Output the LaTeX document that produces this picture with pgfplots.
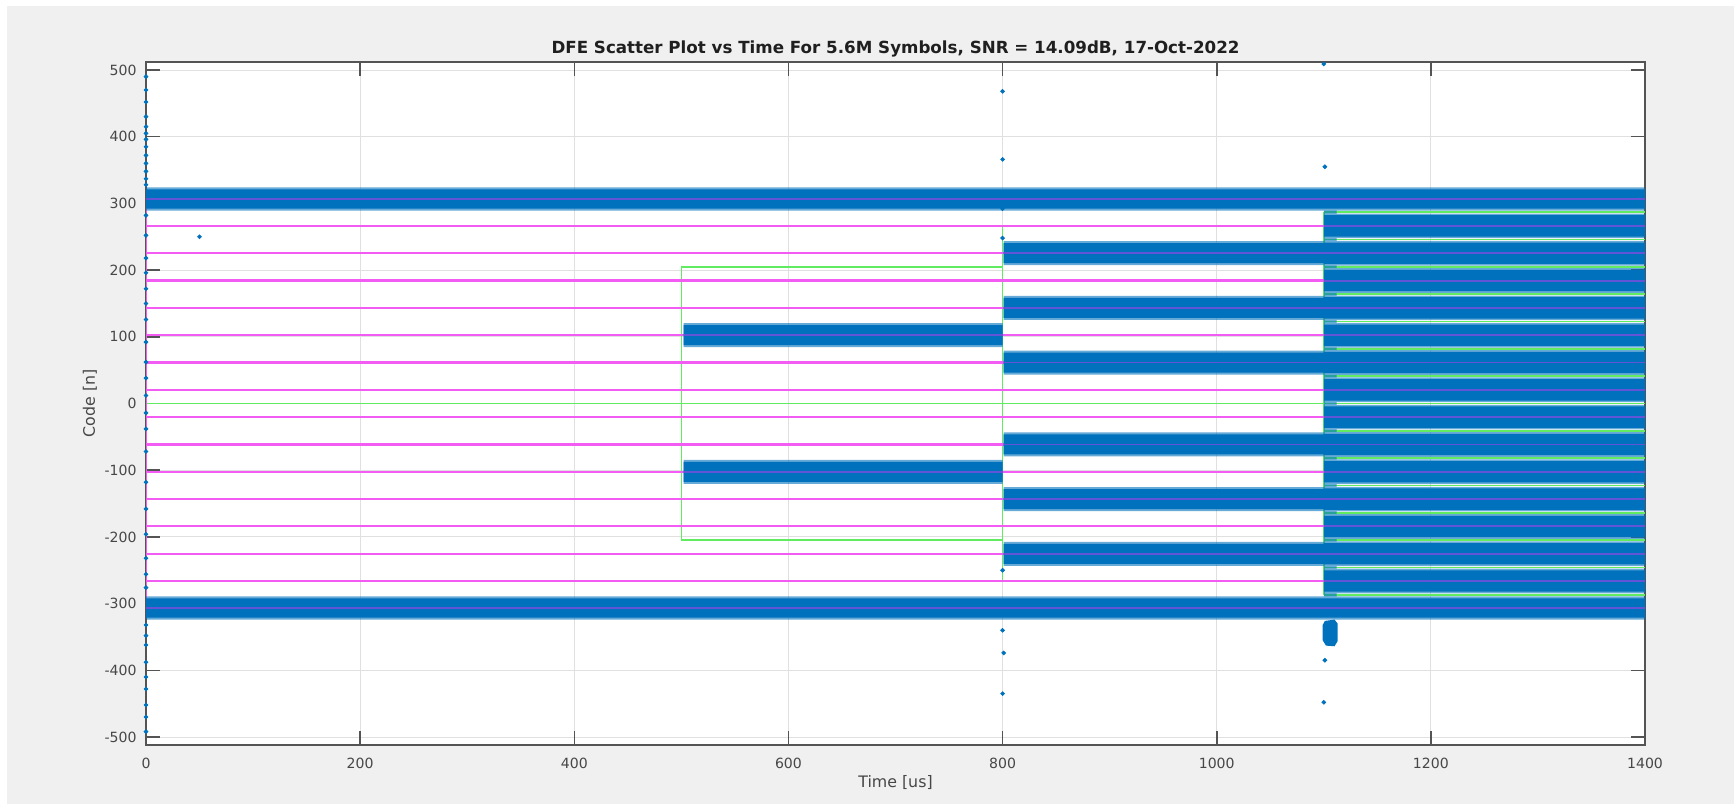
\documentclass[border=0pt]{standalone}
\usepackage{fontspec}
\setmainfont{DejaVu Sans}
\usepackage{pgfplots}
\pgfplotsset{compat=1.18}

\definecolor{figbg}{rgb}{0.94,0.94,0.94}
\definecolor{mblue}{rgb}{0,0.447,0.741}
\definecolor{lvl}{rgb}{0.95,0.36,0.95}
\definecolor{lvlin}{rgb}{0.38,0.33,0.84}
\definecolor{thr}{rgb}{0.38,0.92,0.38}
\definecolor{gridc}{rgb}{0.88,0.88,0.88}
\definecolor{axc}{rgb}{0.33,0.33,0.33}
\definecolor{txt}{rgb}{0.28,0.28,0.28}

\begin{document}
\begin{tikzpicture}
\fill[white] (0,0) rectangle (34.68,16.08);
\fill[figbg] (0.14,0) rectangle (34.68,15.96);
\begin{axis}[
    at={(2.92cm,1.18cm)}, anchor=south west,
    width=29.98cm, height=13.66cm, scale only axis,
    xmin=0, xmax=1400, ymin=-512, ymax=512,
    xtick={0,200,...,1400},
    ytick={-500,-400,...,500},
    axis background/.style={fill=white},
    grid=major,
    major grid style={gridc, line width=0.5pt},
    axis line style={axc, line width=0.9pt},
    tick style={axc, line width=0.9pt},
    major tick length=0.28cm,
    tick align=inside,
    tick pos=both, ticklabel pos=left,
    /pgf/number format/assume math mode=true,
    /pgf/number format/1000 sep={},
    ticklabel style={font=\fontsize{8}{10}\selectfont, text=txt},
    xticklabel style={yshift=-0.146cm},
    yticklabel style={xshift=-0.066cm},
    every axis title shift=0pt,
    title={DFE Scatter Plot vs Time For 5.6M Symbols, SNR = 14.09dB, 17-Oct-2022},
    title style={at={(axis description cs:0.5,1.019)}, anchor=center,
        font=\fontsize{9.5}{12}\selectfont\bfseries, text=black!88},
    xlabel={Time [us]},
    ylabel={Code [n]},
    xlabel style={at={(axis description cs:0.5,-0.0556)}, anchor=center,
        font=\fontsize{9}{11}\selectfont, text=txt},
    ylabel style={at={(axis description cs:-0.0374,0.5)}, anchor=center,
        font=\fontsize{9}{11}\selectfont, text=txt},
    unbounded coords=jump,
]

% decision thresholds (green)
\addplot[thr, line width=0.95pt] coordinates {
    (0,0) (1400,0) (nan,nan)
    (500,204.8) (800,204.8) (nan,nan)
    (500,-204.8) (800,-204.8) (nan,nan)
    (800,102.4) (1100,102.4) (nan,nan)
    (800,-102.4) (1100,-102.4) (nan,nan)
    (800,184.32) (1100,184.32) (nan,nan)
    (800,-184.32) (1100,-184.32) (nan,nan)
    (800,266.24) (1100,266.24) (nan,nan)
    (800,-266.24) (1100,-266.24) (nan,nan)
    (1100,40.96) (1400,40.96) (nan,nan)
    (1100,-40.96) (1400,-40.96) (nan,nan)
    (1100,81.92) (1400,81.92) (nan,nan)
    (1100,-81.92) (1400,-81.92) (nan,nan)
    (1100,122.88) (1400,122.88) (nan,nan)
    (1100,-122.88) (1400,-122.88) (nan,nan)
    (1100,163.84) (1400,163.84) (nan,nan)
    (1100,-163.84) (1400,-163.84) (nan,nan)
    (1100,204.8) (1400,204.8) (nan,nan)
    (1100,-204.8) (1400,-204.8) (nan,nan)
    (1100,245.76) (1400,245.76) (nan,nan)
    (1100,-245.76) (1400,-245.76) (nan,nan)
    (1100,286.72) (1400,286.72) (nan,nan)
    (1100,-286.72) (1400,-286.72) (nan,nan)
    (500,-204.8) (500,204.8) (nan,nan)
    (800,-266.24) (800,266.24) (nan,nan)
    (1100,-286.72) (1100,286.72)
};

% ideal levels (magenta)
\addplot[lvl, line width=1.2pt] coordinates {
    (0,-307.2) (0,307.2) (nan,nan)
    (0,307.2) (1400,307.2) (nan,nan)
    (0,266.24) (1400,266.24) (nan,nan)
    (0,225.28) (1400,225.28) (nan,nan)
    (0,184.32) (1400,184.32) (nan,nan)
    (0,143.36) (1400,143.36) (nan,nan)
    (0,102.4) (1400,102.4) (nan,nan)
    (0,61.44) (1400,61.44) (nan,nan)
    (0,20.48) (1400,20.48) (nan,nan)
    (0,-20.48) (1400,-20.48) (nan,nan)
    (0,-61.44) (1400,-61.44) (nan,nan)
    (0,-102.4) (1400,-102.4) (nan,nan)
    (0,-143.36) (1400,-143.36) (nan,nan)
    (0,-184.32) (1400,-184.32) (nan,nan)
    (0,-225.28) (1400,-225.28) (nan,nan)
    (0,-266.24) (1400,-266.24) (nan,nan)
    (0,-307.2) (1400,-307.2)
};

% scatter bands, ragged fringe
\addplot[fill=mblue, fill opacity=0.6, draw=none] coordinates {
    (0,289) (1400,289) (1400,324) (0,324) (nan,nan)
    (0,-324) (1400,-324) (1400,-289) (0,-289) (nan,nan)
    (502,84.4) (800,84.4) (800,120.4) (502,120.4) (nan,nan)
    (502,-120.4) (800,-120.4) (800,-84.4) (502,-84.4) (nan,nan)
    (801,43.44) (1100,43.44) (1100,79.44) (801,79.44) (nan,nan)
    (801,125.36) (1100,125.36) (1100,161.36) (801,161.36) (nan,nan)
    (801,207.28) (1100,207.28) (1100,243.28) (801,243.28) (nan,nan)
    (801,-79.44) (1100,-79.44) (1100,-43.44) (801,-43.44) (nan,nan)
    (801,-161.36) (1100,-161.36) (1100,-125.36) (801,-125.36) (nan,nan)
    (801,-243.28) (1100,-243.28) (1100,-207.28) (801,-207.28) (nan,nan)
    (1100,1.98) (1400,1.98) (1400,38.98) (1100,38.98) (nan,nan)
    (1100,42.94) (1400,42.94) (1400,79.94) (1100,79.94) (nan,nan)
    (1100,83.9) (1400,83.9) (1400,120.9) (1100,120.9) (nan,nan)
    (1100,124.86) (1400,124.86) (1400,161.86) (1100,161.86) (nan,nan)
    (1100,165.82) (1400,165.82) (1400,202.82) (1100,202.82) (nan,nan)
    (1100,206.78) (1400,206.78) (1400,243.78) (1100,243.78) (nan,nan)
    (1100,247.74) (1400,247.74) (1400,284.74) (1100,284.74) (nan,nan)
    (1100,-38.98) (1400,-38.98) (1400,-1.98) (1100,-1.98) (nan,nan)
    (1100,-79.94) (1400,-79.94) (1400,-42.94) (1100,-42.94) (nan,nan)
    (1100,-120.9) (1400,-120.9) (1400,-83.9) (1100,-83.9) (nan,nan)
    (1100,-161.86) (1400,-161.86) (1400,-124.86) (1100,-124.86) (nan,nan)
    (1100,-202.82) (1400,-202.82) (1400,-165.82) (1100,-165.82) (nan,nan)
    (1100,-243.78) (1400,-243.78) (1400,-206.78) (1100,-206.78) (nan,nan)
    (1100,-284.74) (1400,-284.74) (1400,-247.74) (1100,-247.74) (nan,nan)
    (1100,-296) (1112,-296) (1112,296) (1100,296)
};

% scatter bands, dense core
\addplot[fill=mblue, draw=none] coordinates {
    (0,292) (1400,292) (1400,321) (0,321) (nan,nan)
    (0,-321) (1400,-321) (1400,-292) (0,-292) (nan,nan)
    (502,87.4) (800,87.4) (800,117.4) (502,117.4) (nan,nan)
    (502,-117.4) (800,-117.4) (800,-87.4) (502,-87.4) (nan,nan)
    (801,46.44) (1100,46.44) (1100,76.44) (801,76.44) (nan,nan)
    (801,128.36) (1100,128.36) (1100,158.36) (801,158.36) (nan,nan)
    (801,210.28) (1100,210.28) (1100,240.28) (801,240.28) (nan,nan)
    (801,-76.44) (1100,-76.44) (1100,-46.44) (801,-46.44) (nan,nan)
    (801,-158.36) (1100,-158.36) (1100,-128.36) (801,-128.36) (nan,nan)
    (801,-240.28) (1100,-240.28) (1100,-210.28) (801,-210.28) (nan,nan)
    (1100,4.48) (1400,4.48) (1400,36.48) (1100,36.48) (nan,nan)
    (1100,45.44) (1400,45.44) (1400,77.44) (1100,77.44) (nan,nan)
    (1100,86.4) (1400,86.4) (1400,118.4) (1100,118.4) (nan,nan)
    (1100,127.36) (1400,127.36) (1400,159.36) (1100,159.36) (nan,nan)
    (1100,168.32) (1400,168.32) (1400,200.32) (1100,200.32) (nan,nan)
    (1100,209.28) (1400,209.28) (1400,241.28) (1100,241.28) (nan,nan)
    (1100,250.24) (1400,250.24) (1400,282.24) (1100,282.24) (nan,nan)
    (1100,-36.48) (1400,-36.48) (1400,-4.48) (1100,-4.48) (nan,nan)
    (1100,-77.44) (1400,-77.44) (1400,-45.44) (1100,-45.44) (nan,nan)
    (1100,-118.4) (1400,-118.4) (1400,-86.4) (1100,-86.4) (nan,nan)
    (1100,-159.36) (1400,-159.36) (1400,-127.36) (1100,-127.36) (nan,nan)
    (1100,-200.32) (1400,-200.32) (1400,-168.32) (1100,-168.32) (nan,nan)
    (1100,-241.28) (1400,-241.28) (1400,-209.28) (1100,-209.28) (nan,nan)
    (1100,-282.24) (1400,-282.24) (1400,-250.24) (1100,-250.24) (nan,nan)
    (1101,-326) (1110,-324) (1113,-330) (1113,-356) (1110,-364) (1102,-363) (1099,-355) (1099,-332)
};

% level lines seen through the bands
\addplot[lvlin, line width=1.1pt] coordinates {
    (0,307.2) (1400,307.2) (nan,nan)
    (0,-307.2) (1400,-307.2) (nan,nan)
    (502,102.4) (800,102.4) (nan,nan)
    (502,-102.4) (800,-102.4) (nan,nan)
    (801,61.44) (1400,61.44) (nan,nan)
    (801,143.36) (1400,143.36) (nan,nan)
    (801,225.28) (1400,225.28) (nan,nan)
    (801,-61.44) (1400,-61.44) (nan,nan)
    (801,-143.36) (1400,-143.36) (nan,nan)
    (801,-225.28) (1400,-225.28) (nan,nan)
    (1100,20.48) (1400,20.48) (nan,nan)
    (1100,102.4) (1400,102.4) (nan,nan)
    (1100,184.32) (1400,184.32) (nan,nan)
    (1100,266.24) (1400,266.24) (nan,nan)
    (1100,-20.48) (1400,-20.48) (nan,nan)
    (1100,-102.4) (1400,-102.4) (nan,nan)
    (1100,-184.32) (1400,-184.32) (nan,nan)
    (1100,-266.24) (1400,-266.24)
};

% stray symbols
\addplot[only marks, mark=*, mark size=1.1pt, color=mblue] coordinates {
    (0,490) (0,470) (0,452) (0,430) (0,415) (0,405) (0,396) (0,385)
    (0,372) (0,360) (0,348) (0,337) (0,328) (0,282) (0,252) (0,218)
    (0,196) (0,172) (0,150) (0,126) (0,92) (0,62) (0,38) (0,12)
    (0,-14) (0,-38) (0,-72) (0,-118) (0,-158) (0,-196) (0,-232)
    (0,-256) (0,-276) (0,-332) (0,-348) (0,-362) (0,-388) (0,-410)
    (0,-428) (0,-452) (0,-470) (0,-492)
    (50,250)
    (800,468) (800,366) (800,292) (800,248) (800,-250) (800,-340)
    (801,-374) (800,-435)
    (1100,509) (1101,355) (1101,-385) (1100,-448)
};

\end{axis}
\end{tikzpicture}
\end{document}
